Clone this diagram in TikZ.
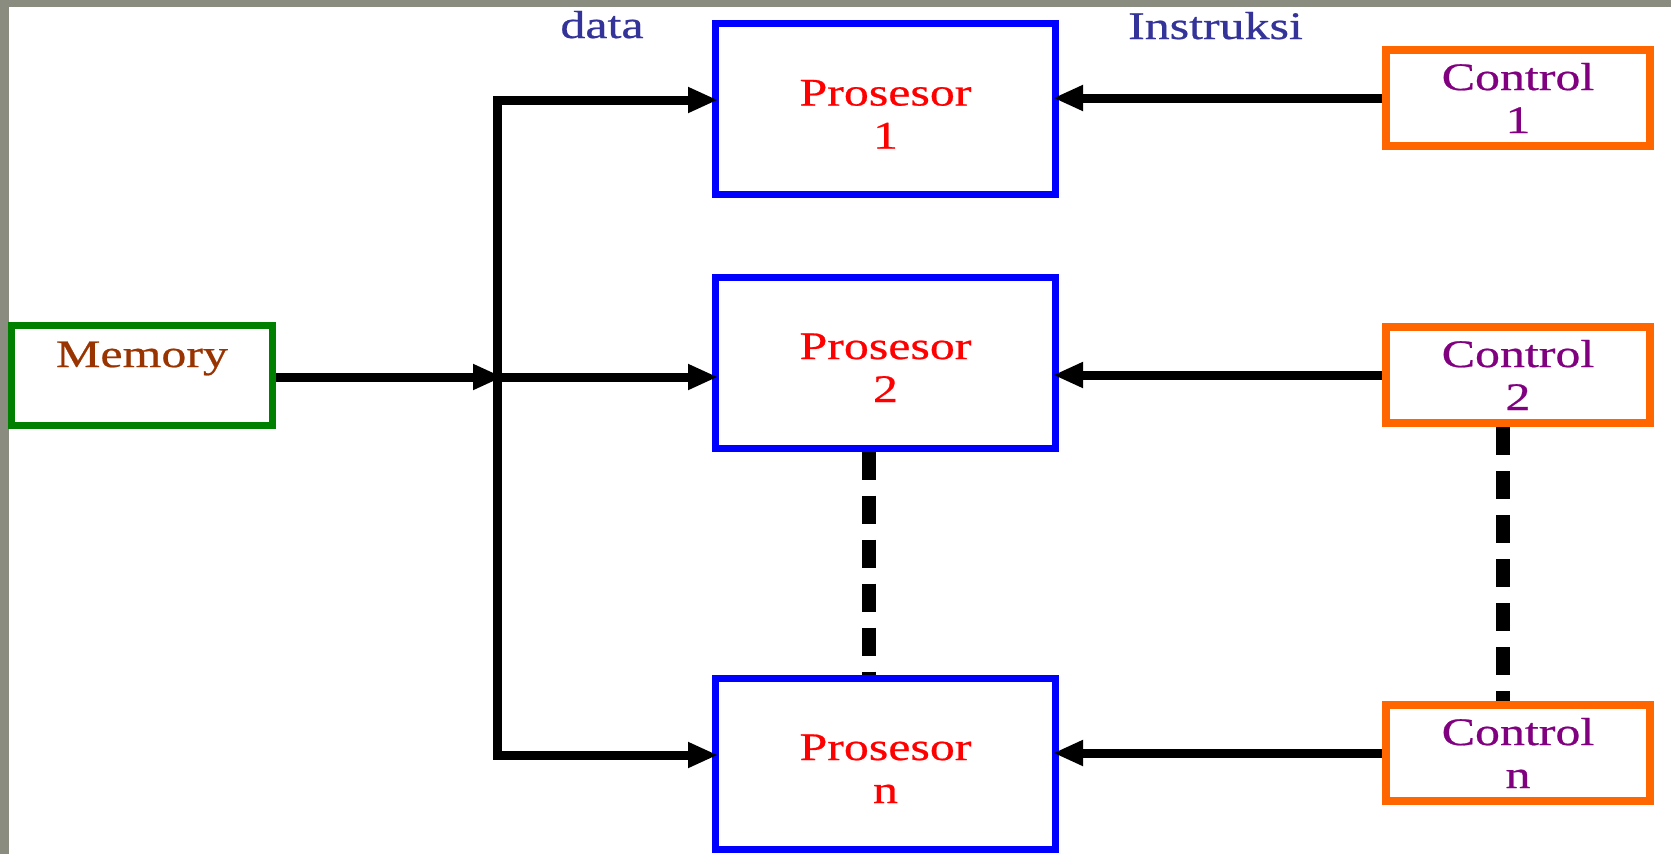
\documentclass[tikz,border=0pt]{standalone}
\usepackage{fontspec}
\newfontfamily\pix[FakeStretch=1.28,FakeBold=0.6]{Liberation Serif}
\usetikzlibrary{arrows.meta}
\definecolor{bggray}{HTML}{8A8C80}
\definecolor{memc}{HTML}{993300}
\definecolor{labc}{HTML}{333399}
\definecolor{ctrlc}{HTML}{800080}
\definecolor{orangec}{HTML}{FF6600}
\definecolor{greenc}{HTML}{008000}
\newcommand{\pstrut}{\rule{0pt}{36pt}}
\begin{document}
\begin{tikzpicture}[x=1pt,y=-1pt,
  txt/.style={font=\pix\fontsize{39}{43}\selectfont, inner sep=0pt, align=center},
  toplabel/.style={txt, text=labc, anchor=base},
  membox/.style={draw=greenc, fill=white, line width=7pt, minimum width=261pt, minimum height=100pt, inner sep=0pt},
  memtxt/.style={txt, text=memc},
  pbox/.style={draw=blue, fill=white, line width=7pt, minimum width=340pt, minimum height=171pt, txt, text=red},
  cbox/.style={draw=orangec, fill=white, line width=8pt, minimum width=264pt, minimum height=96pt, txt, text=ctrlc},
  conn/.style={line width=9pt, line join=miter, shorten >=-6pt, -{Triangle[length=30pt,width=24pt]}},
  dashconn/.style={line width=14pt, dash pattern=on 28pt off 16pt}
]
\fill[bggray] (0,0) rectangle (1671,854);
\fill[white] (9,7) rectangle (1671,854);
\useasboundingbox (0,0) rectangle (1671,854);

\coordinate (bt) at (497,100);
\coordinate (bmid) at (497,377);
\coordinate (bb) at (497,755);

\node[membox] (mem) at (142,375.5) {};
\node[memtxt] (memlabel) at ([yshift=17pt]mem.center) {Memory};

\node[pbox] (p1) at (885.5,109) {\pstrut Prosesor\\1};
\node[pbox] (p2) at (885.5,362.5) {\pstrut Prosesor\\2};
\node[pbox] (pn) at (885.5,763.5) {\pstrut Prosesor\\n};

\node[cbox] (c1) at (1518,98) {Control\\1};
\node[cbox] (c2) at (1518,375) {Control\\2};
\node[cbox] (cn) at (1518,753) {Control\\n};

\node[toplabel] (data) at (602,38) {data};
\node[toplabel] (instr) at (1215.5,39) {Instruksi};

\draw[conn] (bb) -- (bt) -- (bt -| p1.west);
\draw[conn] (bt) -- (bb) -- (bb -| pn.west);
\draw[conn] (bmid) -- (bmid -| p2.west);
\draw[conn] (mem.east |- bmid) -- (bmid);

\draw[conn] (c1.west) -- (c1.west -| p1.east);
\draw[conn] (c2.west) -- (c2.west -| p2.east);
\draw[conn] (cn.west) -- (cn.west -| pn.east);

\draw[dashconn] ([xshift=-16.5pt]p2.south) -- ([xshift=-16.5pt]pn.north);
\draw[dashconn] ([xshift=-15pt]c2.south) -- ([xshift=-15pt]cn.north);
\end{tikzpicture}
\end{document}
